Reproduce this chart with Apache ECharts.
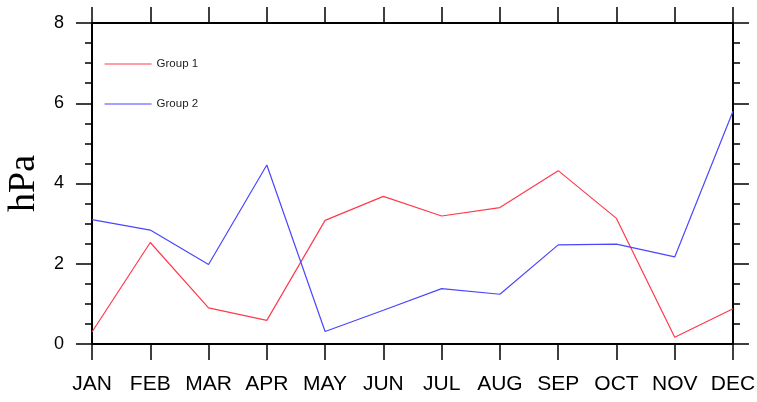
<!DOCTYPE html>
<html>
<head>
<meta charset="utf-8">
<script src="https://cdn.jsdelivr.net/npm/echarts@6/dist/echarts.min.js"></script>
<style>
  html, body { margin: 0; padding: 0; background: #fff; }
  #chart { width: 757px; height: 402px; }
</style>
</head>
<body>
<div id="chart"></div>
<script>
// Monthly values for the two groups (hPa)
const months = ['JAN', 'FEB', 'MAR', 'APR', 'MAY', 'JUN', 'JUL', 'AUG', 'SEP', 'OCT', 'NOV', 'DEC'];
const group1 = [0.30, 2.53, 0.90, 0.59, 3.08, 3.68, 3.19, 3.40, 4.32, 3.13, 0.17, 0.88];
const group2 = [3.10, 2.84, 1.98, 4.46, 0.31, 0.84, 1.38, 1.24, 2.47, 2.49, 2.17, 5.80];
const seriesNames = ['Group 1', 'Group 2'];
const yTicks = { min: 0, max: 8, interval: 2 };

const sansFont = "'Liberation Sans', Helvetica, Arial, sans-serif";
const frame = { show: true, onZero: false, lineStyle: { color: '#000', width: 2 } };
const majorTick = { show: true, inside: false, interval: 0, length: 16, lineStyle: { color: '#000', width: 1.5 } };
const minorTick = { show: true, splitNumber: 4, length: 7, lineStyle: { color: '#000', width: 1.5 } };

const chart = echarts.init(document.getElementById('chart'), null, { renderer: 'canvas' });
chart.setOption({
  animation: false,
  backgroundColor: '#fff',
  grid: { left: 92, right: 24, top: 23, bottom: 58, containLabel: false, outerBoundsMode: 'none' },
  legend: {
    orient: 'vertical',
    left: 104,
    top: 58,
    padding: 0,
    itemWidth: 47,
    itemHeight: 14,
    itemGap: 28,
    data: seriesNames,
    itemStyle: { opacity: 0 },
    lineStyle: { width: 1.2 },
    textStyle: { fontFamily: sansFont, fontSize: 11.5, color: '#222' }
  },
  xAxis: [
    {
      type: 'category',
      data: months,
      boundaryGap: false,
      position: 'bottom',
      axisLine: frame,
      axisTick: majorTick,
      axisLabel: { interval: 0, margin: 30, fontFamily: sansFont, fontSize: 21, color: '#000' },
      splitLine: { show: false }
    },
    {
      type: 'category',
      data: months,
      boundaryGap: false,
      position: 'top',
      axisLine: frame,
      axisTick: majorTick,
      axisLabel: { show: false },
      splitLine: { show: false }
    }
  ],
  yAxis: [
    {
      type: 'value',
      min: yTicks.min,
      max: yTicks.max,
      interval: yTicks.interval,
      position: 'left',
      name: 'hPa',
      nameLocation: 'middle',
      nameGap: 46,
      nameRotate: 90,
      nameTextStyle: { fontFamily: "'Liberation Serif', 'Times New Roman', serif", fontSize: 38, color: '#000' },
      axisLine: frame,
      axisTick: majorTick,
      minorTick: minorTick,
      axisLabel: { margin: 28, fontFamily: sansFont, fontSize: 18, color: '#000' },
      splitLine: { show: false },
      minorSplitLine: { show: false }
    },
    {
      type: 'value',
      min: yTicks.min,
      max: yTicks.max,
      interval: yTicks.interval,
      position: 'right',
      axisLine: frame,
      axisTick: majorTick,
      minorTick: minorTick,
      axisLabel: { show: false },
      splitLine: { show: false },
      minorSplitLine: { show: false }
    }
  ],
  series: [
    {
      name: seriesNames[0],
      type: 'line',
      data: group1,
      symbol: 'none',
      showSymbol: false,
      lineStyle: { color: '#ff3a4c', width: 1.2 },
      itemStyle: { color: '#ff3a4c' },
      z: 3
    },
    {
      name: seriesNames[1],
      type: 'line',
      data: group2,
      symbol: 'none',
      showSymbol: false,
      lineStyle: { color: '#4a46ff', width: 1.2 },
      itemStyle: { color: '#4a46ff' },
      z: 3
    }
  ]
});
</script>
</body>
</html>
